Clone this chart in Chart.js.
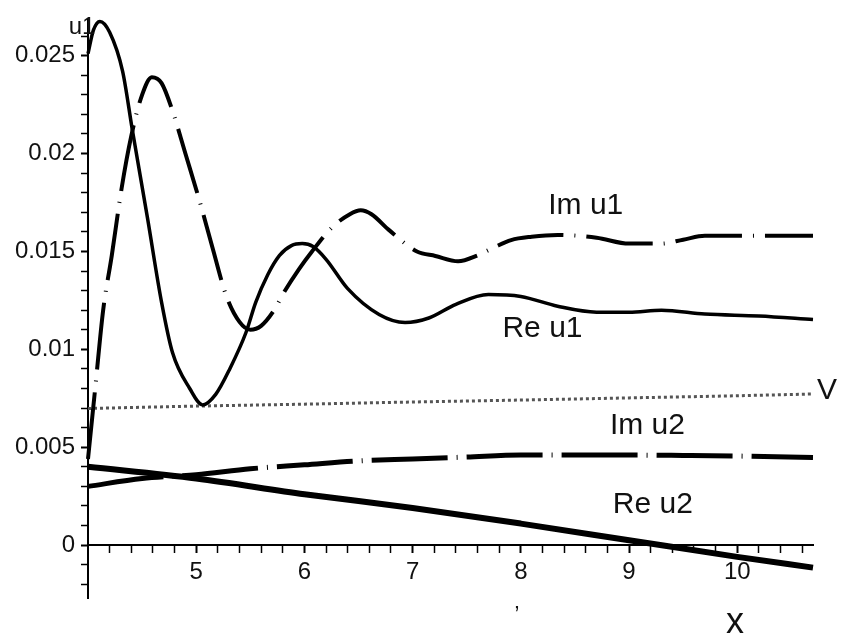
<!DOCTYPE html>
<html>
<head>
<meta charset="utf-8">
<script src="https://cdn.jsdelivr.net/npm/chart.js@4.4.0/dist/chart.umd.min.js"></script>
<style>
  html, body { margin: 0; padding: 0; background: #fff; }
  #wrap { width: 844px; height: 634px; }
</style>
</head>
<body>
<div id="wrap"><canvas id="chart1"></canvas></div>
<script>
// values
var reU1X = [4.00, 4.05, 4.11, 4.20, 4.32, 4.41, 4.55, 4.68, 4.78, 4.94, 5.06, 5.18, 5.31, 5.46, 5.55, 5.66, 5.77, 5.88, 5.98, 6.08, 6.20, 6.40, 6.69, 6.93, 7.15, 7.40, 7.70, 8.00, 8.34, 8.70, 9.00, 9.30, 9.70, 10.20, 10.70];
var reU1Y = [0.0251, 0.0263, 0.02675, 0.0262, 0.0242, 0.0212, 0.0167, 0.0124, 0.00985, 0.0080, 0.00716, 0.0077, 0.0090, 0.01086, 0.0124, 0.0138, 0.0148, 0.0153, 0.0154, 0.01525, 0.0146, 0.0131, 0.01178, 0.01137, 0.0116, 0.0123, 0.0128, 0.0127, 0.0122, 0.0119, 0.0119, 0.0120, 0.0118, 0.0117, 0.01152];

var imU1X = [4.00, 4.07, 4.14, 4.22, 4.31, 4.40, 4.50, 4.59, 4.68, 4.78, 4.90, 5.03, 5.15, 5.28, 5.40, 5.50, 5.60, 5.72, 5.81, 5.95, 6.07, 6.25, 6.42, 6.52, 6.62, 6.78, 7.04, 7.21, 7.42, 7.60, 7.75, 7.91, 8.10, 8.34, 8.70, 9.00, 9.30, 9.50, 9.70, 10.20, 10.70];
var imU1Y = [0.0044, 0.0082, 0.0120, 0.0148, 0.0182, 0.0209, 0.0230, 0.0239, 0.0236, 0.0222, 0.0200, 0.0176, 0.0152, 0.0127, 0.0114, 0.0110, 0.0112, 0.0120, 0.0129, 0.0141, 0.0150, 0.0162, 0.01690, 0.0171, 0.01690, 0.0161, 0.0150, 0.01477, 0.0145, 0.0148, 0.0152, 0.01558, 0.01575, 0.01584, 0.0157, 0.0154, 0.0154, 0.0156, 0.0158, 0.0158, 0.0158];

var vX = [4, 5, 6, 7, 8, 9, 10, 10.7];
var vY = [0.00698, 0.00710, 0.00720, 0.00731, 0.00741, 0.00752, 0.00763, 0.00772];

var imU2X = [4.0, 4.5, 5.0, 5.5, 6.0, 6.5, 7.0, 7.5, 8.0, 8.5, 9.0, 9.5, 10.0, 10.7];
var imU2Y = [0.0030, 0.0034, 0.0036, 0.0039, 0.0041, 0.0043, 0.0044, 0.0045, 0.0046, 0.0046, 0.0046, 0.00458, 0.00455, 0.00447];

var reU2X = [4, 5, 6, 7, 8, 9, 10, 10.7];
var reU2Y = [0.0040, 0.0034, 0.0026, 0.0019, 0.0011, 0.00025, -0.0006, -0.00115];

// tick labels
var xLabels = [5, 6, 7, 8, 9, 10];
var yLabels = [0, 0.005, 0.01, 0.015, 0.02, 0.025];

// text on the plot, in data coordinates
var plotTexts = [
    { text: 'Im u1', x: 8.60, y: 0.01731, size: 30 },
    { text: 'Re u1', x: 8.20, y: 0.01107, size: 30 },
    { text: 'V', x: 10.83, y: 0.00787, size: 30 },
    { text: 'Im u2', x: 9.17, y: 0.00609, size: 30 },
    { text: 'Re u2', x: 9.22, y: 0.00208, size: 30 },
    { text: 'x', x: 9.98, y: -0.00400, size: 36 },
    { text: 'u1', x: 3.945, y: 0.02645, size: 24 },
    { text: '\u2019', x: 7.965, y: -0.00355, size: 22 }
];

function zip(xs, ys) {
    return xs.map(function(x, i) { return { x: x, y: ys[i] }; });
}

var fontFamily = "'Liberation Sans', Arial, sans-serif";

var textPlugin = {
    id: 'plotTexts',
    afterDraw: function(chart) {
        var ctx = chart.ctx;
        var xs = chart.scales.x, ys = chart.scales.y;
        ctx.save();
        ctx.fillStyle = '#111';
        ctx.textAlign = 'center';
        ctx.textBaseline = 'middle';
        plotTexts.forEach(function(t) {
            ctx.font = t.size + 'px ' + fontFamily;
            ctx.fillText(t.text, xs.getPixelForValue(t.x), ys.getPixelForValue(t.y));
        });
        ctx.restore();
    }
};

function isLabel(list, v) {
    return list.some(function(l) { return Math.abs(l - v) < 1e-9; });
}

var lineBase = {
    fill: false,
    pointRadius: 0,
    borderColor: '#000',
    cubicInterpolationMode: 'monotone',
    clip: 6
};

var ctx = document.getElementById('chart1').getContext('2d');
window.myLine = new Chart(ctx, {
    type: 'line',
    data: {
        datasets: [
            Object.assign({}, lineBase, { label: 'Re u1', data: zip(reU1X, reU1Y), borderWidth: 3.5 }),
            Object.assign({}, lineBase, { label: 'Im u1', data: zip(imU1X, imU1Y), borderWidth: 4, borderDash: [67, 11, 1, 11] }),
            Object.assign({}, lineBase, { label: 'V', data: zip(vX, vY), borderWidth: 3, borderColor: '#555', borderDash: [3, 3] }),
            Object.assign({}, lineBase, { label: 'Im u2', data: zip(imU2X, imU2Y), borderWidth: 5, borderDash: [76, 9, 1, 9] }),
            Object.assign({}, lineBase, { label: 'Re u2', data: zip(reU2X, reU2Y), borderWidth: 6 })
        ]
    },
    options: {
        responsive: true,
        maintainAspectRatio: false,
        animation: false,
        devicePixelRatio: 1,
        layout: { padding: { left: 0, top: 16, right: 31, bottom: 36 } },
        plugins: {
            legend: { display: false },
            tooltip: { enabled: false }
        },
        scales: {
            x: {
                type: 'linear',
                position: { y: 0 },
                min: 4,
                max: 10.7,
                afterBuildTicks: function(scale) {
                    var t = [];
                    for (var i = 21; i <= 53; i++) t.push({ value: i / 5 });
                    scale.ticks = t;
                },
                ticks: {
                    autoSkip: false,
                    maxRotation: 0,
                    padding: 6,
                    color: '#111',
                    font: { family: fontFamily, size: 24 },
                    callback: function(v) { return isLabel(xLabels, v) ? String(Math.round(v)) : ''; }
                },
                grid: {
                    drawOnChartArea: false,
                    drawTicks: true,
                    tickLength: 7,
                    tickColor: '#000',
                    tickWidth: function(c) { return c.tick && isLabel(xLabels, c.tick.value) ? 2 : 1.5; }
                },
                border: { display: true, color: '#000', width: 2 }
            },
            y: {
                type: 'linear',
                min: -0.0027,
                max: 0.0268,
                afterFit: function(scale) { scale.width = 88; },
                afterBuildTicks: function(scale) {
                    var t = [];
                    for (var i = -2; i <= 26; i++) t.push({ value: i / 1000 });
                    scale.ticks = t;
                },
                ticks: {
                    autoSkip: false,
                    padding: 6,
                    color: '#111',
                    font: { family: fontFamily, size: 24 },
                    callback: function(v) { return isLabel(yLabels, v) ? String(+v.toFixed(3)) : ''; }
                },
                grid: {
                    drawOnChartArea: false,
                    drawTicks: true,
                    tickLength: 7,
                    tickColor: '#000',
                    tickWidth: function(c) { return c.tick && isLabel(yLabels, c.tick.value) ? 2 : 1.5; }
                },
                border: { display: true, color: '#000', width: 2 }
            }
        }
    },
    plugins: [textPlugin]
});
</script>
</body>
</html>
